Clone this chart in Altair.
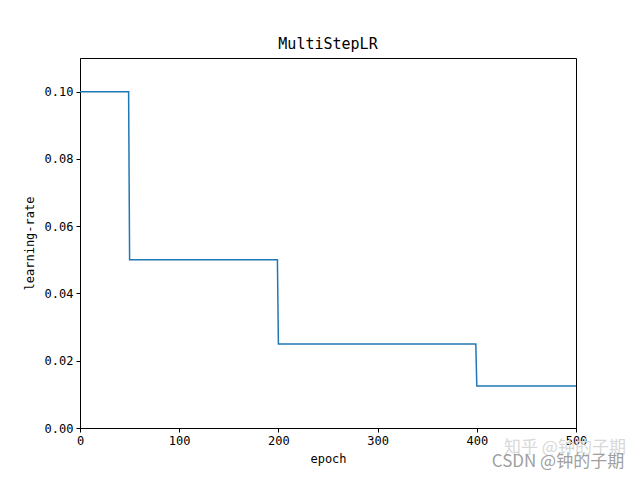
import altair as alt
import pandas as pd

epochs = [0, 49, 50, 199, 200, 399, 400, 500]
lrs = [0.1, 0.1, 0.05, 0.05, 0.025, 0.025, 0.0125, 0.0125]
x_ticks = [0, 100, 200, 300, 400, 500]
y_ticks = [0.0, 0.02, 0.04, 0.06, 0.08, 0.10]
watermarks = ["知乎 @钟的子期", "CSDN @钟的子期"]

df = pd.DataFrame({"epoch": epochs, "lr": lrs})

FONT = "DejaVu Sans Mono"

line = alt.Chart(df).mark_line(color="#1f77b4", strokeWidth=1.5, clip=True).encode(
    x=alt.X("epoch:Q", scale=alt.Scale(domain=[0, 500], nice=False, zero=False),
            axis=alt.Axis(values=x_ticks, title="epoch", format="d")),
    y=alt.Y("lr:Q", scale=alt.Scale(domain=[0, 0.11], nice=False),
            axis=alt.Axis(values=y_ticks, title="learning-rate", format=".2f")),
)

wm1 = alt.Chart(pd.DataFrame({"t": [watermarks[0]]})).mark_text(
    font="Noto Sans CJK SC", fontSize=17, color="#d8d8d8", align="center", baseline="middle"
).encode(text="t:N", x=alt.value(485), y=alt.value(390))
wm2 = alt.Chart(pd.DataFrame({"t": [watermarks[1]]})).mark_text(
    font="Noto Sans CJK SC", fontSize=17, color="#a0a0a0", align="center", baseline="middle"
).encode(text="t:N", x=alt.value(478), y=alt.value(404))

chart = alt.layer(line, wm1, wm2).properties(
    width=496, height=370,
    autosize=alt.AutoSizeParams(type="none"),
    padding={"left": 80, "top": 58, "right": 64, "bottom": 52},
    title=alt.Title("MultiStepLR", font=FONT, fontSize=15, fontWeight="normal",
                    color="black", offset=6),
    background="white",
).configure_view(stroke="black", strokeWidth=1).configure_axis(
    grid=False, domainColor="black", tickColor="black", tickSize=4,
    labelFont=FONT, labelFontSize=12, labelColor="black", labelPadding=3,
    titleFont=FONT, titleFontSize=12, titleFontWeight="normal", titleColor="black",
    domainWidth=1, tickWidth=1,
).configure_axisX(titlePadding=7, labelFlush=False).configure_axisY(titlePadding=8, labelFlush=False)

chart.save("out.html", embed_options={"renderer": "svg", "actions": False})
